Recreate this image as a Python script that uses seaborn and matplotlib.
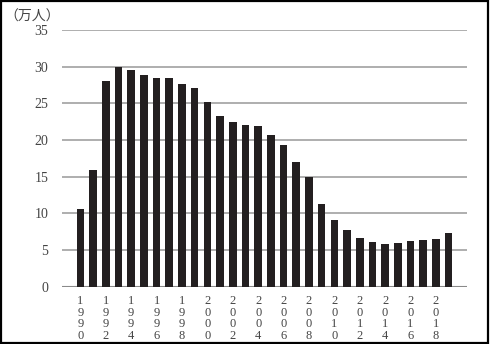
import matplotlib
matplotlib.use("Agg")
import matplotlib.pyplot as plt
import seaborn as sns
import pandas as pd
from matplotlib.patches import Rectangle

years = list(range(1990, 2020))
values = [10.6, 15.9, 28.0, 30.0, 29.5, 28.8, 28.5, 28.4, 27.7, 27.1,
          25.2, 23.3, 22.5, 22.1, 21.9, 20.7, 19.3, 17.0, 15.0, 11.3,
          9.1, 7.7, 6.6, 6.1, 5.8, 6.0, 6.2, 6.4, 6.5, 7.3]
y_ticks = [0, 5, 10, 15, 20, 25, 30, 35]
unit_label = "（万人）"

sns.set_theme(style="white")
plt.rcParams['font.family'] = ['Liberation Serif', 'Noto Sans CJK JP', 'DejaVu Sans']

df = pd.DataFrame({"year": [str(y) for y in years], "value": values})

fig = plt.figure(figsize=(4.9, 3.44), dpi=100)
ax = fig.add_axes([62/490, 1-286.7/344, (467-62)/490, (286.7-30)/344])

for t in y_ticks:
    ax.axhline(t, color="#8a8a8a" if t == 0 else "#a8a8a8", lw=1.5 if t == 0 else 1.3, zorder=0)

sns.barplot(data=df, x="year", y="value", color="#231f20", saturation=1,
            width=0.6, ax=ax, zorder=2, linewidth=0)

ax.set_xlim(-1.45, len(years) - 1 + 1.45)
ax.set_ylim(0, 35)
ax.set_yticks(y_ticks)
ax.set_yticklabels([str(t) for t in y_ticks], fontsize=10, color="#444444")
pos = [i for i, y in enumerate(years) if y % 2 == 0]
ax.set_xticks(pos)
ax.set_xticklabels(["\n".join(str(years[i])) for i in pos], fontsize=9,
                   color="#444444", linespacing=0.95, va="top")
ax.tick_params(axis="y", length=0, pad=10)
ax.tick_params(axis="x", length=0, pad=6)
ax.set_xlabel("")
ax.set_ylabel("")
for s in ax.spines.values():
    s.set_visible(False)

fig.text(32/490, 1-17/344, unit_label, fontsize=10, ha="center", va="center",
         color="#444444", family=['Noto Sans CJK JP', 'DejaVu Sans'])

fig.patches.append(Rectangle((0.002, 0.003), 0.994, 0.994, transform=fig.transFigure,
                             fill=False, edgecolor="black", lw=1.6, zorder=10))

fig.savefig("out.png", dpi=100)
